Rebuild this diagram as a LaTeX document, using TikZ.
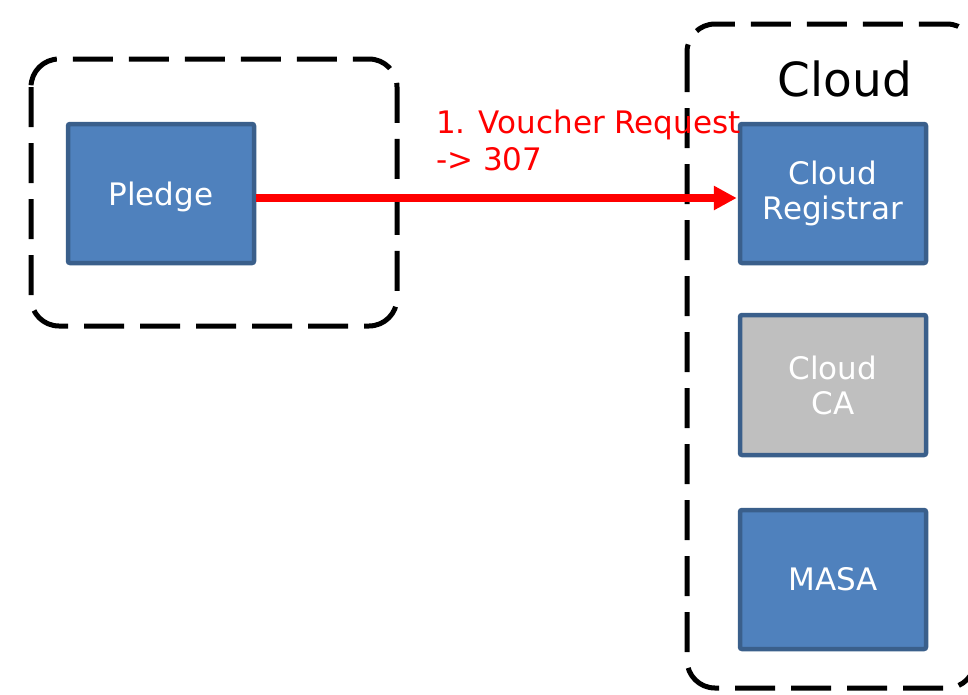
\documentclass[tikz,border=0pt]{standalone}
\usepackage{fontspec}
\setmainfont{DejaVu Sans}
\usetikzlibrary{arrows.meta}
\definecolor{boxblue}{HTML}{4F81BD}
\definecolor{boxedge}{HTML}{3A5F8B}
\definecolor{boxgray}{HTML}{BFBFBF}
\tikzset{
  unitbox/.style={draw=boxedge, line width=4.5pt, fill=boxblue, rounded corners=2pt,
    minimum width=186pt, minimum height=139pt, inner sep=0pt, text=white,
    font=\fontsize{31}{35}\selectfont, align=center},
  grouping/.style={draw=black, line width=5pt, dash pattern=on 40pt off 16pt, rounded corners=28pt},
  msgarrow/.style={draw=red, line width=8pt, -{Triangle[length=23pt,width=23pt]}},
  msglabel/.style={text=red, font=\fontsize{31}{37}\selectfont, align=left, inner sep=0pt}
}
\begin{document}
\begin{tikzpicture}[x=1pt,y=-1pt]
\useasboundingbox (0,0) rectangle (968,694);
\clip (0,0) rectangle (968,694);
% groups
\draw[grouping] (31,59) rectangle (397,326);
\draw[grouping] (687,24) rectangle (975,688);
\node[font=\fontsize{47}{50}\selectfont, anchor=base, inner sep=0pt] (cloudtitle) at (845,96) {Cloud};
% boxes
\node[unitbox, text depth=0pt] (pledge) at (161,193.5) {Pledge};
\node[unitbox] (registrar) at (833,193.5) {Cloud\\Registrar};
\node[unitbox, fill=boxgray, minimum height=140pt] (ca) at (833,385) {Cloud\\CA};
\node[unitbox] (masa) at (833,579.5) {MASA};
% arrow
\draw[msgarrow] ([yshift=-4.5pt]pledge.east) -- ([yshift=-4.5pt,xshift=-1pt]registrar.west);
\node[msglabel, anchor=base west] (lbl) at (436,170) {1. Voucher Request\\-> 307};
\end{tikzpicture}
\end{document}
